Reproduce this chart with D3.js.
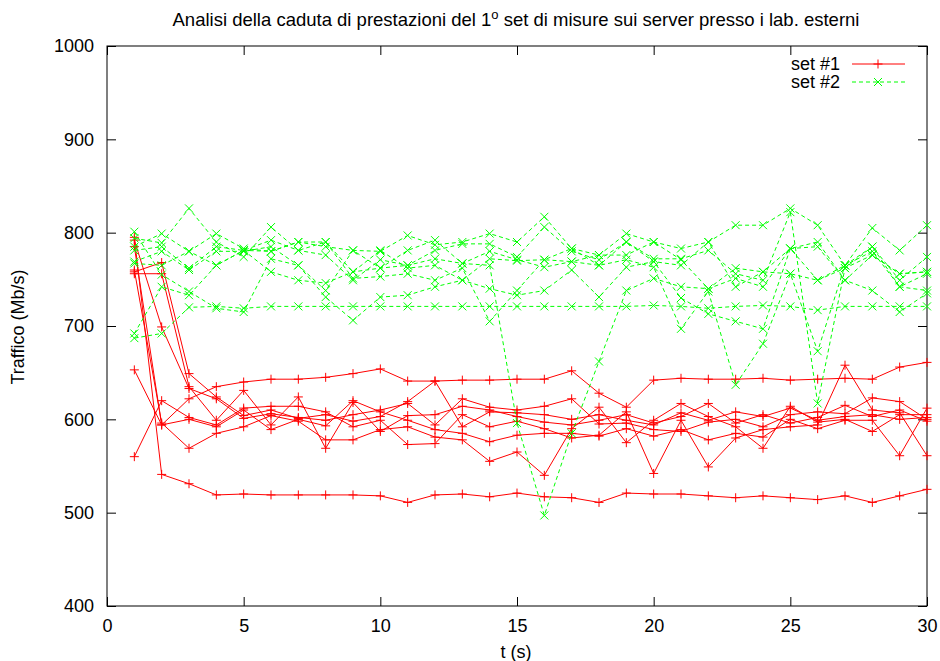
<!DOCTYPE html>
<html>
<head>
<meta charset="utf-8">
<script src="https://cdn.jsdelivr.net/npm/d3@7"></script>
<style>
body { margin: 0; background: #fff; }
text { font-family: "Liberation Sans", Arial, Helvetica, sans-serif; fill: #000; }
</style>
</head>
<body>
<svg id="chart" width="940" height="661"></svg>
<script>
// time axis (s)
var tVals = [1,2,3,4,5,6,7,8,9,10,11,12,13,14,15,16,17,18,19,20,21,22,23,24,25,26,27,28,29,30];

// set #1, one array per run (Mb/s)
var s1_r1 = [795,541,531,519,520,519,519,519,519,518,511,519,520,517,521,517,516,511,521,520,520,518,516,518,516,514,518,511,518,525];
var s1_r2 = [653,594,622,635,640,643,643,645,649,654,641,641,642,642,643,643,652,628,613,642,644,643,643,644,642,643,644,643,656,661];
var s1_r3 = [560,620,602,594,612,614,614,608,592,599,573,574,605,592,598,590,580,583,608,542,599,549,580,589,592,594,658,610,607,561];
var s1_r4 = [758,768,649,624,604,610,601,605,598,603,619,641,592,608,607,605,600,605,599,594,607,599,608,603,612,599,603,605,600,602];
var s1_r5 = [756,756,635,599,631,594,624,569,618,587,604,605,614,610,603,597,594,599,605,596,603,617,596,605,596,602,615,603,610,598];
var s1_r6 = [792,699,633,622,601,606,602,599,605,610,617,594,622,613,610,614,622,595,596,589,587,597,600,592,605,608,606,623,619,600];
var s1_r7 = [785,594,600,592,610,589,600,593,620,608,599,589,585,576,583,585,585,582,590,582,589,578,585,581,600,590,599,599,561,612];
var s1_r8 = [760,596,569,585,592,604,598,578,578,589,592,581,578,555,565,540,590,613,575,599,617,603,592,569,614,597,600,587,605,605];

// set #2
var s2_r1 = [687,692,720,721,719,721,721,721,721,721,721,721,721,721,721,721,721,721,721,722,721,719,721,722,721,717,721,721,721,721];
var s2_r2 = [692,742,733,765,781,758,749,746,758,762,765,772,767,765,596,497,585,662,738,751,742,740,762,758,756,749,762,776,756,758];
var s2_r3 = [801,755,737,719,715,772,765,731,706,731,733,742,749,740,733,738,760,731,763,769,730,713,705,697,783,790,749,738,715,735];
var s2_r4 = [794,789,826,790,774,806,781,790,751,753,756,749,762,705,738,771,769,765,771,763,697,737,637,681,756,673,765,780,742,738];
var s2_r5 = [785,799,780,799,783,780,790,785,781,780,797,787,790,799,790,817,783,776,799,790,783,790,808,808,826,808,765,805,781,808];
var s2_r6 = [781,785,762,785,781,792,781,776,749,771,765,781,788,788,774,806,780,771,790,772,772,781,756,749,822,617,762,785,749,774];
var s2_r7 = [769,780,760,780,780,785,765,738,781,762,781,792,767,780,771,763,769,776,776,790,771,740,751,742,783,785,749,776,756,758];
var s2_r8 = [767,765,780,765,781,780,790,790,758,781,762,765,749,772,770,771,783,765,790,769,765,790,742,758,783,749,765,785,742,756];

var set1 = [s1_r1, s1_r2, s1_r3, s1_r4, s1_r5, s1_r6, s1_r7, s1_r8];
var set2 = [s2_r1, s2_r2, s2_r3, s2_r4, s2_r5, s2_r6, s2_r7, s2_r8];

var xTicks = [0,5,10,15,20,25,30];
var yTicks = [400,500,600,700,800,900,1000];

// plot box (window.top is read-only, so no "top" var)
var padL = 107, padR = 927, padT = 46, padB = 606;

var svg = d3.select("#chart");

var x = d3.scaleLinear().domain([0, 30]).range([padL, padR]);
var y = d3.scaleLinear().domain([400, 1000]).range([padB, padT]);

//axes, ticks drawn inward on all four sides like gnuplot
svg.append("g").attr("transform", "translate(0," + padB + ")")
  .call(d3.axisBottom(x).tickValues(xTicks).tickSize(-9).tickPadding(13).tickFormat(d3.format("d")))
  .call(function(g) { g.select(".domain").remove(); });
svg.append("g").attr("transform", "translate(0," + padT + ")")
  .call(d3.axisTop(x).tickValues(xTicks).tickSize(-9).tickFormat(""))
  .call(function(g) { g.select(".domain").remove(); });
svg.append("g").attr("transform", "translate(" + padL + ",0)")
  .call(d3.axisLeft(y).tickValues(yTicks).tickSize(-9).tickPadding(13).tickFormat(d3.format("d")))
  .call(function(g) { g.select(".domain").remove(); });
svg.append("g").attr("transform", "translate(" + padR + ",0)")
  .call(d3.axisRight(y).tickValues(yTicks).tickSize(-9).tickFormat(""))
  .call(function(g) { g.select(".domain").remove(); });

svg.selectAll(".tick text")
  .style("font-family", '"Liberation Sans", Arial, sans-serif')
  .style("font-size", "18px");
svg.selectAll(".tick line").attr("stroke", "#000");

svg.append("rect")
  .attr("x", padL).attr("y", padT)
  .attr("width", padR - padL).attr("height", padB - padT)
  .attr("fill", "none").attr("stroke", "#000").attr("stroke-width", 1);

var line = d3.line()
  .x(function(d, i) { return x(tVals[i]); })
  .y(function(d) { return y(d); });

var plusPath = "M-4.5,0H4.5M0,-4.5V4.5";
var crossPath = "M-4,-4L4,4M-4,4L4,-4";

function drawSet(data, color, dash, marker) {
  var g = svg.append("g");
  data.forEach(function(run) {
    g.append("path")
      .attr("d", line(run))
      .attr("fill", "none")
      .attr("stroke", color)
      .attr("stroke-width", 1)
      .attr("stroke-dasharray", dash);
    g.selectAll(null).data(run).enter().append("path")
      .attr("transform", function(d, i) { return "translate(" + x(tVals[i]) + "," + y(d) + ")"; })
      .attr("d", marker)
      .attr("fill", "none")
      .attr("stroke", color)
      .attr("stroke-width", 1);
  });
}

drawSet(set1, "#ff0000", null, plusPath);
drawSet(set2, "#00ff00", "4,3", crossPath);

// legend
var legend = [
  {label: "set #1", color: "#ff0000", dash: null, marker: plusPath, y: 64},
  {label: "set #2", color: "#00ff00", dash: "4,3", marker: crossPath, y: 82}
];
legend.forEach(function(l) {
  svg.append("text").attr("x", 840).attr("y", l.y + 6)
    .attr("text-anchor", "end").style("font-size", "18px").text(l.label);
  svg.append("line").attr("x1", 852).attr("x2", 905).attr("y1", l.y).attr("y2", l.y)
    .attr("stroke", l.color).attr("stroke-dasharray", l.dash);
  svg.append("path").attr("transform", "translate(878," + l.y + ")")
    .attr("d", l.marker).attr("fill", "none").attr("stroke", l.color);
});

// title and axis labels
var title = svg.append("text").attr("x", 516).attr("y", 26)
  .attr("text-anchor", "middle").style("font-size", "18.5px");
title.append("tspan").text("Analisi della caduta di prestazioni del 1");
title.append("tspan").attr("dy", -7).style("font-size", "13px").text("o");
title.append("tspan").attr("dy", 7).text(" set di misure sui server presso i lab. esterni");

svg.append("text").attr("x", 516).attr("y", 658)
  .attr("text-anchor", "middle").style("font-size", "18px").text("t (s)");

svg.append("text").attr("transform", "translate(24,327) rotate(-90)")
  .attr("text-anchor", "middle").style("font-size", "18px").text("Traffico (Mb/s)");
</script>
</body>
</html>
